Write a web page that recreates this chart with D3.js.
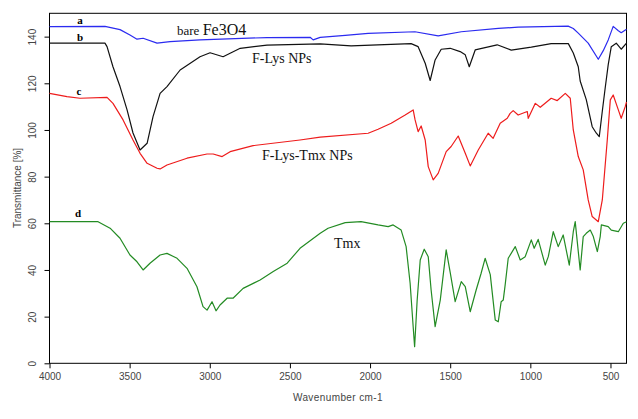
<!DOCTYPE html>
<html><head><meta charset="utf-8">
<script src="https://cdn.jsdelivr.net/npm/d3@7"></script>
<style>body{margin:0;background:#fff}svg{display:block}</style>
</head><body>
<svg id="c" width="638" height="419"></svg>
<script>
// Wavenumber (cm-1) / Transmittance (%) pairs
const xTicks = [4000, 3500, 3000, 2500, 2000, 1500, 1000, 500];
const yTicks = [0, 20, 40, 60, 80, 100, 120, 140];

const seriesA = [[4000,144.3],[3654,144.4],[3560,143],[3498,140.7],[3454,138.9],[3416,139.3],[3329,137.2],[3248,137.9],[3061,138.6],[2643,139.6],[2374,139.7],[2355,138.6],[2311,139.7],[2155,140.5],[2012,141.4],[1720,142.1],[1575,140.3],[1431,142.1],[1200,143.5],[1076,144.1],[764,144.5],[732,143.5],[701,141.5],[639,137.2],[576,130.3],[545,134],[514,138.6],[483,144.4],[451,142.5],[433,141.7],[400,143.2]];

const seriesB = [[4000,137.2],[3654,137.2],[3641,135.7],[3604,127.1],[3560,118.6],[3516,108.6],[3479,98.7],[3435,91.4],[3391,94.3],[3354,105.7],[3310,115.7],[3267,118.6],[3185,125.7],[3061,131.4],[2998,133.1],[2917,131.4],[2810,135],[2643,136.4],[2311,136.9],[2118,136],[1744,137],[1700,135.7],[1656,128.6],[1625,121.2],[1594,130],[1556,134.6],[1500,135],[1438,133.6],[1406,132.2],[1381,127.1],[1344,134.3],[1207,136.5],[1119,134.2],[994,135.5],[870,137],[763,137],[732,133],[701,127.1],[689,121],[651,113],[614,101.4],[588,98.6],[570,97.1],[551,108],[533,118],[514,128],[495,135.7],[464,137.2],[433,134.6],[400,137.2]];

const seriesC = [[4000,115.7],[3891,114.3],[3810,113.6],[3641,114],[3604,111.4],[3541,104.3],[3479,95.7],[3435,90],[3391,85.7],[3329,83.6],[3310,83.3],[3267,85],[3142,87.9],[3017,89.7],[2979,89.7],[2923,88.6],[2873,90.7],[2730,93.3],[2437,95.7],[2311,96.9],[2012,98.6],[1950,100.3],[1868,102.9],[1781,106.4],[1731,108.6],[1719,104.3],[1700,99.3],[1681,101.7],[1656,95.7],[1637,84.3],[1606,78.6],[1575,81.4],[1525,90.7],[1494,92.9],[1450,97.4],[1406,90],[1375,84.6],[1325,91.4],[1263,98.6],[1232,96.4],[1188,102.9],[1144,105],[1126,107.1],[1107,108.3],[1076,106.4],[1019,107.9],[1013,105],[969,111.4],[938,109.7],[870,113.6],[832,112.6],[782,115.7],[751,113.6],[732,100],[701,88.6],[670,82.9],[639,70],[614,62.9],[576,60.7],[551,70],[520,95.7],[501,112.9],[483,115],[451,108.6],[433,105],[408,110],[400,112]];

const seriesD = [[4000,60.7],[3697,60.7],[3622,57.9],[3560,53.6],[3498,46.4],[3454,43.5],[3416,40],[3373,42.9],[3310,46.4],[3267,47.1],[3204,45],[3142,40.7],[3080,32.8],[3042,24.3],[3017,22.8],[2986,26.4],[2961,22.5],[2936,25],[2892,27.9],[2855,27.9],[2792,32.1],[2686,35.7],[2604,39.3],[2517,42.9],[2437,49.3],[2311,55.7],[2262,57.9],[2155,60.3],[2056,60.7],[1950,59.3],[1887,58.6],[1856,59.3],[1806,57.1],[1775,50],[1750,34.3],[1731,15.7],[1722,7.1],[1706,27.1],[1687,44.3],[1662,48.9],[1637,45.7],[1619,31.4],[1594,15.7],[1562,27.1],[1525,48.6],[1500,39],[1469,26.4],[1431,35],[1406,32.9],[1375,22.1],[1338,31.4],[1307,38.6],[1282,45],[1250,38],[1219,18.6],[1200,17.8],[1182,26.4],[1169,27.1],[1157,33.6],[1144,41.4],[1138,45],[1094,50],[1063,44.3],[1032,45.7],[994,52.9],[976,49.3],[951,53.1],[907,42.1],[888,45.7],[857,56.4],[826,50],[795,55],[757,42.1],[732,56.4],[720,60.7],[689,40],[670,54.3],[651,55.7],[626,57.1],[607,54.3],[582,47.9],[564,54.3],[557,59.3],[514,58.6],[495,57.1],[451,56.4],[420,60],[400,60.7]];

const svg = d3.select('#c');
const L = 49.5, R = 626.5, T = 13.3, B = 363.3;
const x = d3.scaleLinear().domain([4000, 400]).range([L, R]);
const y = d3.scaleLinear().domain([0, 150]).range([B, T]);

// frame
svg.append('rect').attr('x', L).attr('y', T).attr('width', R - L).attr('height', B - T)
  .attr('fill', 'none').attr('stroke', '#000').attr('stroke-width', 1);

const tickFont = 'Liberation Sans, Arial, sans-serif';
const xAxis = svg.append('g').attr('transform', `translate(0,${B})`)
  .call(d3.axisBottom(x).tickValues(xTicks).tickFormat(d3.format('d')).tickSize(5).tickSizeOuter(0).tickPadding(5));
xAxis.select('.domain').remove();
xAxis.selectAll('text').attr('font-family', tickFont).attr('font-size', 10).attr('fill', '#444');

const yAxis = svg.append('g').attr('transform', `translate(${L},0)`)
  .call(d3.axisLeft(y).tickValues(yTicks).tickFormat(d3.format('d')).tickSize(5).tickSizeOuter(0));
yAxis.select('.domain').remove();
yAxis.selectAll('text').attr('font-family', tickFont).attr('font-size', 10).attr('fill', '#444')
  .attr('x', 0).attr('dy', 0)
  .attr('transform', 'translate(-17,0) rotate(-90)')
  .attr('text-anchor', 'middle').attr('dominant-baseline', 'central');

svg.append('text').attr('x', 338).attr('y', 401).attr('text-anchor', 'middle')
  .attr('font-family', tickFont).attr('font-size', 10).attr('fill', '#444')
  .attr('letter-spacing', 0.4).text('Wavenumber cm-1');
svg.append('text').attr('transform', 'translate(17,188) rotate(-90)').attr('text-anchor', 'middle')
  .attr('dominant-baseline', 'central')
  .attr('font-family', tickFont).attr('font-size', 10).attr('fill', '#444').text('Transmittance [%]');

const line = d3.line().x(d => x(d[0])).y(d => y(d[1]));
const series = [
  {data: seriesA, color: '#2b2bf0'},
  {data: seriesB, color: '#111111'},
  {data: seriesC, color: '#ee1c1c'},
  {data: seriesD, color: '#238b23'}
];
series.forEach(s => {
  svg.append('path').datum(s.data).attr('d', line).attr('fill', 'none')
    .attr('stroke', s.color).attr('stroke-width', 1.2).attr('stroke-linejoin', 'round');
});

const serif = 'Liberation Serif, Times New Roman, serif';
const letters = [['a', 80, 24], ['b', 80, 41], ['c', 79, 95], ['d', 78, 217]];
letters.forEach(([t, lx, ly]) => {
  svg.append('text').attr('x', lx).attr('y', ly).attr('text-anchor', 'middle')
    .attr('font-family', serif).attr('font-weight', 'bold').attr('font-size', 11).text(t);
});

const lab1 = svg.append('text').attr('x', 177).attr('y', 35).attr('font-family', serif).attr('fill', '#111');
lab1.append('tspan').attr('font-size', 13).text('bare ');
lab1.append('tspan').attr('font-size', 16).text('Fe3O4');

svg.append('text').attr('x', 252).attr('y', 63).attr('font-family', serif).attr('font-size', 14)
  .attr('fill', '#111').text('F-Lys NPs');
svg.append('text').attr('x', 262).attr('y', 160).attr('font-family', serif).attr('font-size', 14)
  .attr('fill', '#111').text('F-Lys-Tmx NPs');
svg.append('text').attr('x', 334).attr('y', 248).attr('font-family', serif).attr('font-size', 14)
  .attr('fill', '#111').text('Tmx');
</script>
</body></html>
